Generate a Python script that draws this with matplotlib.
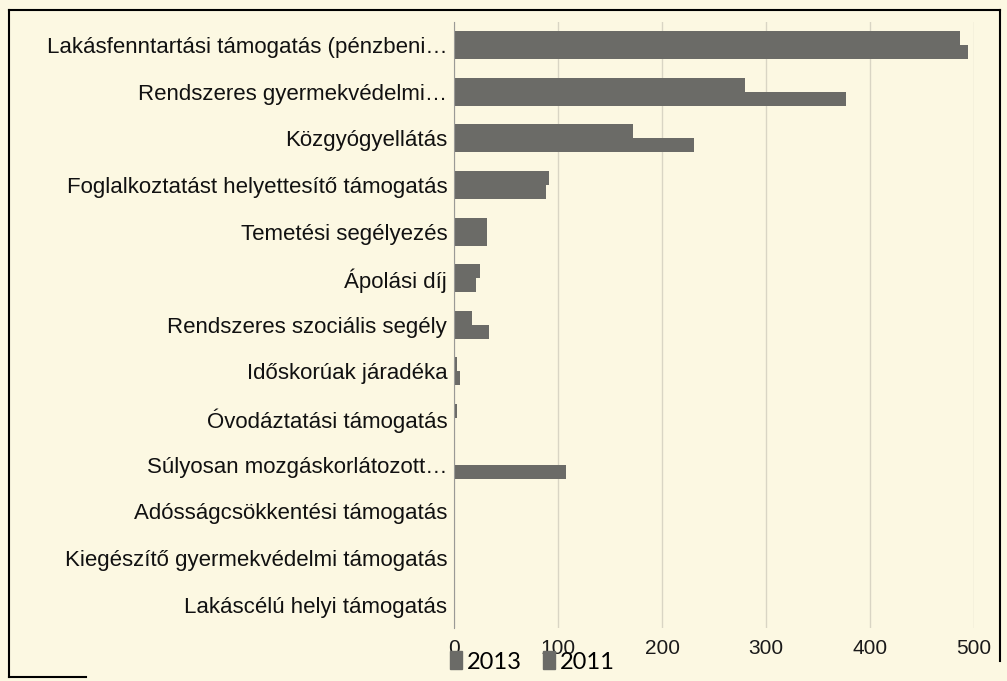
import numpy as np
import matplotlib
matplotlib.use('Agg')
import matplotlib.pyplot as plt
from matplotlib.patches import Patch
from matplotlib.lines import Line2D

categories = ["Lakásfenntartási támogatás (pénzbeni…",
              "Rendszeres gyermekvédelmi…",
              "Közgyógyellátás",
              "Foglalkoztatást helyettesítő támogatás",
              "Temetési segélyezés",
              "Ápolási díj",
              "Rendszeres szociális segély",
              "Időskorúak járadéka",
              "Óvodáztatási támogatás",
              "Súlyosan mozgáskorlátozott…",
              "Adósságcsökkentési támogatás",
              "Kiegészítő gyermekvédelmi támogatás",
              "Lakáscélú helyi támogatás"]
vals_2013 = [487, 280, 172, 91, 32, 25, 17, 3, 3, 0, 0, 0, 0]
vals_2011 = [494, 377, 231, 88, 32, 21, 34, 6, 0, 108, 0, 0, 0]
xticks = [0, 100, 200, 300, 400, 500]

bg = '#fcf8e2'
bar_col = '#6b6b67'

fig = plt.figure(figsize=(10.07, 6.81), dpi=100, facecolor=bg)
ax = fig.add_axes([0.451, 0.078, 0.516, 0.89])
ax.set_facecolor(bg)

y = np.arange(len(categories))
h = 0.3
ax.barh(y - h/2, vals_2013, height=h, color=bar_col, label='2013')
ax.barh(y + h/2, vals_2011, height=h, color=bar_col, label='2011')

ax.set_ylim(len(categories) - 0.5, -0.5)
ax.set_xlim(0, 500)
ax.set_xticks(xticks)
ax.set_xticklabels([str(t) for t in xticks], fontsize=15, family='Liberation Sans',
                   color='#1a1a1a')
ax.set_yticks(y)
ax.set_yticklabels(categories, fontsize=16, family='Liberation Sans', color='#111111')
ax.tick_params(axis='x', length=0, pad=8)
ax.tick_params(axis='y', length=0, pad=5)
ax.grid(axis='x', color='#d9d5c4', lw=1)
ax.set_axisbelow(True)
for s in ['top', 'right', 'bottom']:
    ax.spines[s].set_visible(False)
ax.spines['left'].set_color('#9a9a96')

# legend sits on top of the tick labels
handles = [Patch(color=bar_col, label='2013'), Patch(color=bar_col, label='2011')]
fig.legend(handles=handles, loc='center left', bbox_to_anchor=(0.426, 0.028),
           ncol=2, frameon=False, handlelength=0.5, handleheight=0.8,
           handletextpad=0.2, columnspacing=0.9,
           prop={'family': 'Lato', 'size': 17})

# outer frame
fr = dict(color='black', lw=1.5, transform=fig.transFigure)
fig.add_artist(Line2D([0.009, 0.993], [0.985, 0.985], **fr))
fig.add_artist(Line2D([0.009, 0.009], [0.985, 0.006], **fr))
fig.add_artist(Line2D([0.993, 0.993], [0.985, 0.03], **fr))
fig.add_artist(Line2D([0.009, 0.085], [0.006, 0.006], **fr))

plt.savefig('out.png', dpi=100, facecolor=bg)
